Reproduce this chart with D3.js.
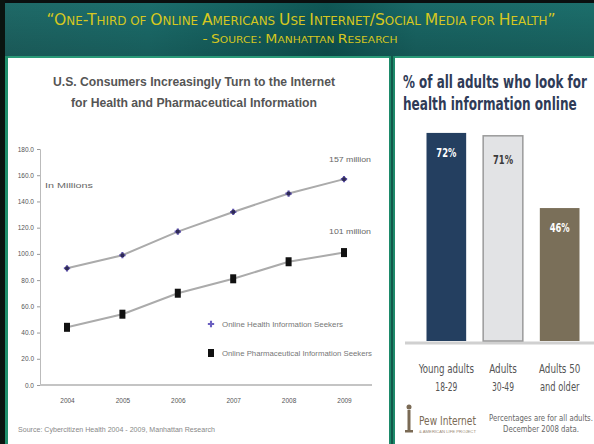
<!DOCTYPE html>
<html><head><meta charset="utf-8">
<script src="https://cdn.jsdelivr.net/npm/d3@7"></script>
<style>
html,body{margin:0;padding:0;background:#fff;}
svg{display:block;}
text{font-family:"Liberation Sans",Arial,sans-serif;}
.narrow{font-family:"Liberation Sans Narrow","DejaVu Sans Condensed","Liberation Sans",sans-serif;}
</style></head>
<body>
<svg id="c" width="594" height="444"></svg>
<script>
// ---------- data ----------
const years = [2004, 2005, 2006, 2007, 2008, 2009];
const healthSeekers = [89, 99, 117, 132, 146, 157];
const pharmaSeekers = [44, 54, 70, 81, 94, 101];
const yTicks = [0, 20, 40, 60, 80, 100, 120, 140, 160, 180];
const seriesNames = ["Online Health Information Seekers", "Online Pharmaceutical Information Seekers"];
const endLabels = ["157 million", "101 million"];

const ageGroups = ["Young adults|18-29", "Adults|30-49", "Adults 50|and older"];
const pctLookOnline = [72, 71, 46];
const barColors = ["#243f60", "#e2e3e5", "#7a6f59"];
const barTextColors = ["#ffffff", "#3a3a3a", "#ffffff"];

const svg = d3.select("#c");

// helper: place text at (x,y) and squeeze horizontally to a target width
function fitText(parent, str, px, py, target, anchor, attrs){
  const t = parent.append("text").attr("x",0).attr("y",0).attr("text-anchor",anchor||"start").text(str);
  Object.entries(attrs||{}).forEach(([k,v])=>t.attr(k,v));
  const w = t.node().getComputedTextLength();
  const sx = w>0 ? target/w : 1;
  t.attr("transform",`translate(${px},${py}) scale(${sx},1)`);
  return t;
}

// ---------- slide frame ----------
const defs = svg.append("defs");
const g1 = defs.append("linearGradient").attr("id","hdr").attr("x1","0").attr("x2","1").attr("y1","0").attr("y2","0");
[["0%","#1f6a68"],["25%","#1c6f6d"],["45%","#14615f"],["55%","#0f5856"],["70%","#1a6a68"],["100%","#1c6f6c"]]
  .forEach(([o,c])=>g1.append("stop").attr("offset",o).attr("stop-color",c));
const g2 = defs.append("linearGradient").attr("id","hdrv").attr("x1","0").attr("x2","0").attr("y1","0").attr("y2","1");
g2.append("stop").attr("offset","0%").attr("stop-color","#000").attr("stop-opacity",0.0);
g2.append("stop").attr("offset","100%").attr("stop-color","#000").attr("stop-opacity",0.18);

svg.append("rect").attr("x",0).attr("y",0).attr("width",594).attr("height",444).attr("fill","#1b6e6a");
svg.append("rect").attr("x",0).attr("y",0).attr("width",594).attr("height",58).attr("fill","url(#hdr)");
svg.append("rect").attr("x",0).attr("y",0).attr("width",594).attr("height",58).attr("fill","url(#hdrv)");
svg.append("rect").attr("x",0).attr("y",0).attr("width",594).attr("height",3).attr("fill","#0a0f0f");
svg.append("rect").attr("x",0).attr("y",0).attr("width",5).attr("height",444).attr("fill","#0a1410");
svg.append("rect").attr("x",5).attr("y",56).attr("width",589).attr("height",2).attr("fill","#2a9a78");
svg.append("rect").attr("x",5).attr("y",56).attr("width",3).attr("height",388).attr("fill","#1f8f6c");
// panels
svg.append("rect").attr("x",8).attr("y",58).attr("width",381).attr("height",386).attr("fill","#ffffff");
svg.append("rect").attr("x",389).attr("y",56).attr("width",6).attr("height",388).attr("fill","#1d8a6a");
svg.append("rect").attr("x",391).attr("y",56).attr("width",2).attr("height",388).attr("fill","#11594a");
svg.append("rect").attr("x",395).attr("y",58).attr("width",199).attr("height",386).attr("fill","#ffffff");

// small caps header text helper
function smallCaps(sel, str, big, small){
  const parts = str.match(/([A-Z0-9“”"\/:\-]+|[^A-Z0-9“”"\/:\-]+)/g);
  parts.forEach(p=>{
    const isUpper = /[A-Z0-9“”"\/:\-]/.test(p[0]);
    sel.append("tspan").attr("font-size", isUpper?big:small).text(p.toUpperCase());
  });
}
const h1 = svg.append("text").attr("x",301).attr("y",25).attr("text-anchor","middle")
  .attr("fill","#d6c71f").attr("textLength",509).attr("lengthAdjust","spacingAndGlyphs")
  .style("font-family","'DejaVu Sans',sans-serif");
smallCaps(h1, "“One-Third of Online Americans Use Internet/Social Media for Health”", 15, 11.5);
const h2 = svg.append("text").attr("x",300).attr("y",43).attr("text-anchor","middle")
  .attr("fill","#d6c71f").attr("textLength",195).attr("lengthAdjust","spacingAndGlyphs")
  .style("font-family","'DejaVu Sans',sans-serif");
smallCaps(h2, "- Source: Manhattan Research", 12.5, 9.5);

// ---------- left line chart ----------
const L = svg.append("g");
L.append("text").attr("x",194).attr("y",86).attr("text-anchor","middle").attr("font-weight","bold")
  .attr("font-size",13).attr("fill","#555").attr("textLength",282).attr("lengthAdjust","spacingAndGlyphs")
  .text("U.S. Consumers Increasingly Turn to the Internet");
L.append("text").attr("x",194).attr("y",107).attr("text-anchor","middle").attr("font-weight","bold")
  .attr("font-size",13).attr("fill","#555").attr("textLength",246).attr("lengthAdjust","spacingAndGlyphs")
  .text("for Health and Pharmaceutical Information");

const x = d3.scaleLinear().domain([2004, 2009]).range([67, 344]);
const y = d3.scaleLinear().domain([0, 180]).range([385, 149]);

const yAxis = L.append("g").attr("transform","translate(40,0)")
  .call(d3.axisLeft(y).tickValues(yTicks).tickFormat(d3.format(".1f")).tickSize(3).tickPadding(3));
yAxis.selectAll("text").attr("font-size",6.5).attr("fill","#555");
yAxis.selectAll("line").attr("stroke","#999");
yAxis.select(".domain").attr("stroke","#bbb");

const xAxis = L.append("g").attr("transform","translate(0,385)")
  .call(d3.axisBottom(x).tickValues(years).tickFormat(d3.format("d")).tickSize(0).tickPadding(13));
xAxis.selectAll("text").attr("font-size",6.5).attr("fill","#555");
xAxis.select(".domain").remove();
L.append("line").attr("x1",40).attr("x2",372).attr("y1",y(0)).attr("y2",y(0)).attr("stroke","#c4c4c4").attr("stroke-width",2);

L.append("text").attr("x",45).attr("y",188).attr("font-size",7.5).attr("fill","#666")
  .attr("textLength",48).attr("lengthAdjust","spacingAndGlyphs").text("In Millions");

const line = d3.line().x((d,i)=>x(years[i])).y(d=>y(d));
[healthSeekers, pharmaSeekers].forEach(s=>{
  L.append("path").datum(s).attr("d",line).attr("fill","none").attr("stroke","#ababab").attr("stroke-width",2);
});
// health markers (purple crosses)
L.selectAll(".hm").data(healthSeekers).enter().append("path").attr("class","hm")
  .attr("transform",(d,i)=>`translate(${x(years[i])},${y(d)})`)
  .attr("d",d3.symbol(d3.symbolCross,22)()).attr("fill","#5b4fa8");
L.selectAll(".hm2").data(healthSeekers).enter().append("rect").attr("class","hm2")
  .attr("x",(d,i)=>x(years[i])-1.8).attr("y",d=>y(d)-1.8).attr("width",3.6).attr("height",3.6).attr("fill","#2e2a55");
// pharma markers (black squares)
L.selectAll(".pm").data(pharmaSeekers).enter().append("rect").attr("class","pm")
  .attr("x",(d,i)=>x(years[i])-3).attr("y",d=>y(d)-4.5).attr("width",6).attr("height",9).attr("fill","#111");

L.append("text").attr("x",350).attr("y",162).attr("text-anchor","middle").attr("font-size",7.5).attr("fill","#666")
  .attr("textLength",42).attr("lengthAdjust","spacingAndGlyphs").text(endLabels[0]);
L.append("text").attr("x",350).attr("y",234).attr("text-anchor","middle").attr("font-size",7.5).attr("fill","#666")
  .attr("textLength",42).attr("lengthAdjust","spacingAndGlyphs").text(endLabels[1]);

// legend
const legY = [324, 353];
L.append("path").attr("transform",`translate(211,${legY[0]})`).attr("d",d3.symbol(d3.symbolCross,22)()).attr("fill","#6a5fc0");
L.append("rect").attr("x",208).attr("y",legY[1]-4).attr("width",6).attr("height",8).attr("fill","#111");
L.append("text").attr("x",222).attr("y",legY[0]+2.5).attr("font-size",7).attr("fill","#777")
  .attr("textLength",121).attr("lengthAdjust","spacingAndGlyphs").text(seriesNames[0]);
L.append("text").attr("x",222).attr("y",legY[1]+2.5).attr("font-size",7).attr("fill","#777")
  .attr("textLength",150).attr("lengthAdjust","spacingAndGlyphs").text(seriesNames[1]);

L.append("text").attr("x",18).attr("y",432).attr("font-size",7).attr("fill","#888")
  .attr("textLength",197).attr("lengthAdjust","spacingAndGlyphs")
  .text("Source: Cybercitizen Health 2004 - 2009, Manhattan Research");

// ---------- right bar chart ----------
const R = svg.append("g");
fitText(R, "% of all adults who look for", 403, 88, 184, "start",
  {"class":"narrow","font-weight":"bold","font-size":18,"fill":"#2f3b57"});
fitText(R, "health information online", 403, 110, 174, "start",
  {"class":"narrow","font-weight":"bold","font-size":18,"fill":"#2f3b57"});

const xb = d3.scaleBand().domain(ageGroups).range([418, 588]).paddingInner(0.3).paddingOuter(0.15);
const yb = d3.scaleLinear().domain([0, 100]).range([341, 52]);

R.append("line").attr("x1",405).attr("x2",594).attr("y1",343).attr("y2",343).attr("stroke","#d0d0d0").attr("stroke-width",3);

R.selectAll(".bar").data(pctLookOnline).enter().append("rect").attr("class","bar")
  .attr("x",(d,i)=>xb(ageGroups[i])).attr("y",d=>yb(d)).attr("width",xb.bandwidth())
  .attr("height",d=>yb(0)-yb(d)).attr("fill",(d,i)=>barColors[i])
  .attr("stroke",(d,i)=>i===1?"#9a9a9a":"none").attr("stroke-width",1.5);

pctLookOnline.forEach((d,i)=>{
  fitText(R, d+"%", xb(ageGroups[i])+xb.bandwidth()/2, yb(d)+(i===1?28:24), 20, "middle",
    {"class":"narrow","font-weight":"bold","font-size":13,"fill":barTextColors[i]});
});

ageGroups.forEach((c,i)=>{
  const [a,b] = c.split("|");
  const cx = xb(c)+xb.bandwidth()/2;
  fitText(R, a, cx, 373, a.length*4.6, "middle", {"class":"narrow","font-size":12.5,"fill":"#555"});
  fitText(R, b, cx, 391, b.length*4.4, "middle", {"class":"narrow","font-size":12.5,"fill":"#555"});
});

// Pew logo
const P = R.append("g").attr("fill","#7a6a55");
P.append("circle").attr("cx",409).attr("cy",407).attr("r",2.5);
P.append("rect").attr("x",407.5).attr("y",410).attr("width",3).attr("height",20);
P.append("rect").attr("x",405).attr("y",430).attr("width",8).attr("height",2.5);
fitText(R, "Pew Internet", 419, 425, 57, "start", {"class":"narrow","font-size":12,"fill":"#7a6a55"});
fitText(R, "& AMERICAN LIFE PROJECT", 419, 433, 57, "start", {"font-size":4,"fill":"#9a8a75"});
fitText(R, "Percentages are for all adults.", 541, 421, 104, "middle", {"class":"narrow","font-size":9,"fill":"#666"});
fitText(R, "December 2008 data.", 541, 432, 76, "middle", {"class":"narrow","font-size":9,"fill":"#666"});
</script>
</body></html>
